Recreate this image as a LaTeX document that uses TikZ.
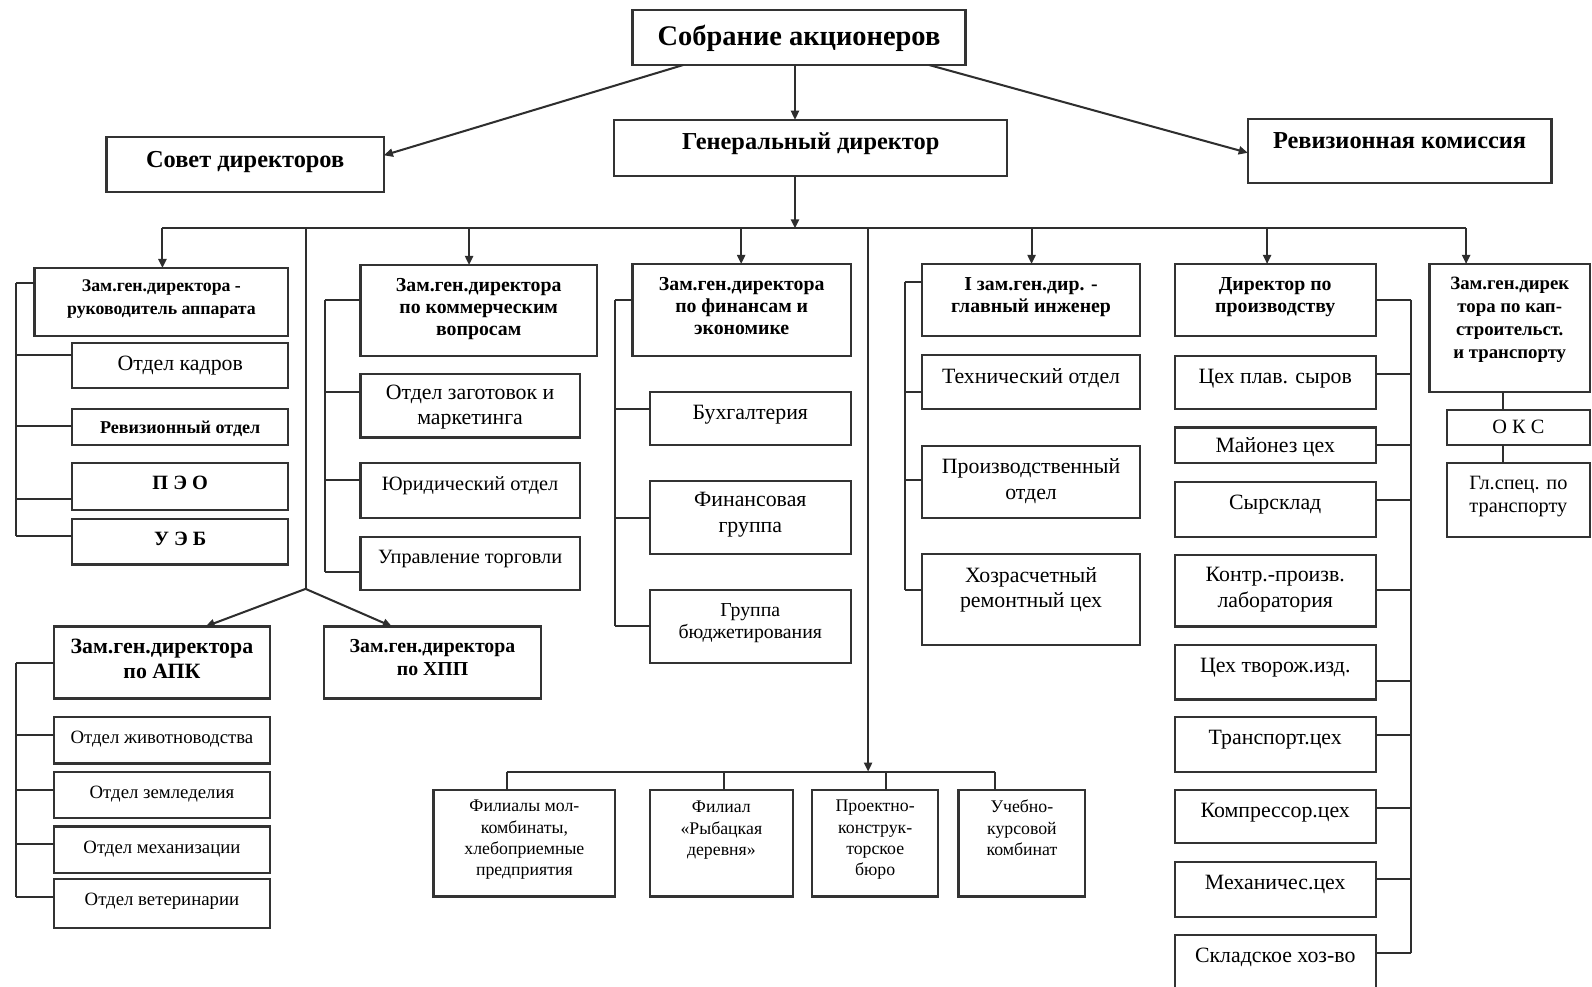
\documentclass[tikz,border=0pt]{standalone}
\usepackage{fontspec}
\setmainfont{Liberation Serif}
\usetikzlibrary{arrows.meta,calc}
\tikzset{
 bx/.style={draw=black!80, line width=2.2pt, inner sep=0pt, outer sep=0pt},
 ln/.style={draw=black!82, line width=2pt},
 arr/.style={ln, -{Triangle[length=9pt,width=8pt]}},
}
\newcommand\fTop{\bfseries\fontsize{28}{32}\selectfont}
\newcommand\fBig{\bfseries\fontsize{24}{28}\selectfont}
\newcommand\fHd{\bfseries\fontsize{19.5}{22}\selectfont}
\newcommand\fHs{\bfseries\fontsize{17.5}{22}\selectfont}
\newcommand\fHk{\bfseries\fontsize{18.5}{22.5}\selectfont}
\newcommand\fHa{\bfseries\fontsize{21.5}{25}\selectfont}
\newcommand\fHb{\bfseries\fontsize{20}{24}\selectfont}
\newcommand\fHr{\bfseries\fontsize{17.8}{20}\selectfont}
\newcommand\fRg{\fontsize{21.5}{25}\selectfont}
\newcommand\fRm{\fontsize{20}{23}\selectfont}
\newcommand\fRs{\fontsize{18.5}{22}\selectfont}
\newcommand\fRb{\fontsize{19.5}{22}\selectfont}
\newcommand\fBt{\fontsize{17.5}{21}\selectfont}
% name, x1, y1, x2, y2, top pad, font, text
\newcommand\bx[8]{\node[bx,font=#7] (#1) at ({(#2+#4)/2},{(#3+#5)/2})
 {\parbox[c][\dimexpr #5pt-#3pt\relax][t]{\dimexpr #4pt-#2pt\relax}{\centering\vspace*{\dimexpr #6pt+5pt\relax}#8\par}};}
\begin{document}
\begin{tikzpicture}[x=1pt,y=-1pt]
\useasboundingbox (0,0) rectangle (1568,972);
% top level
\bx{sob}{623}{10}{951}{64}{10}{\fTop}{Собрание акционеров}
\bx{sov}{105}{135}{378}{189}{9}{\fBig}{Совет директоров}
\bx{gen}{605}{118}{992}{173}{8}{\fBig}{Генеральный директор}
\bx{rev}{1229}{117}{1528}{180}{9}{\fBig}{Ревизионная комиссия}
% column 1
\bx{h1}{34}{264}{284}{331}{7}{\fHs}{Зам.ген.директора -\\руководитель аппарата}
\bx{k1}{71}{338}{284}{382}{8}{\fRg}{Отдел кадров}
\bx{k2}{71}{403}{284}{438}{7}{\fHr}{Ревизионный отдел}
\bx{k3}{71}{456}{284}{502}{8}{\fHb}{П Э О}
\bx{k4}{71}{511}{284}{556}{8}{\fHb}{У Э Б}
% column 2
\bx{h2}{355}{261}{588}{351}{8}{\fHd}{Зам.ген.директора\\по коммерческим\\вопросам}
\bx{c1}{355}{368}{571}{431}{6}{\fRg}{Отдел заготовок и\\маркетинга}
\bx{c2}{355}{456}{571}{510}{8}{\fRm}{Юридический отдел}
\bx{c3}{355}{529}{571}{581}{8}{\fRm}{Управление торговли}
% column 3
\bx{h3}{623}{260}{838}{351}{8}{\fHd}{Зам.ген.директора\\по финансам и\\экономике}
\bx{f1}{640}{386}{838}{438}{8}{\fRg}{Бухгалтерия}
\bx{f2}{640}{474}{838}{546}{6}{\fRg}{Финансовая\\группа}
\bx{f3}{640}{581}{838}{653}{8}{\fRb}{Группа\\бюджетирования}
% column 4
\bx{h4}{908}{260}{1123}{331}{8}{\fHd}{I зам.ген.дир. -\\главный инженер}
\bx{e1}{908}{350}{1123}{403}{8}{\fRg}{Технический отдел}
\bx{e2}{908}{439}{1123}{510}{8}{\fRg}{Производственный\\отдел}
\bx{e3}{908}{546}{1123}{635}{8}{\fRg}{Хозрасчетный\\ремонтный цех}
% column 5
\bx{h5}{1157}{260}{1355}{331}{8}{\fHd}{Директор по\\производству}
\bx{p1}{1157}{351}{1355}{403}{8}{\fRg}{Цех плав. сыров}
\bx{p2}{1157}{421}{1355}{456}{5}{\fRg}{Майонез цех}
\bx{p3}{1157}{475}{1355}{529}{8}{\fRg}{Сырсклад}
\bx{p4}{1157}{547}{1355}{617}{7}{\fRg}{Контр.-произв.\\лаборатория}
\bx{p5}{1157}{635}{1355}{689}{8}{\fRg}{Цех творож.изд.}
\bx{p6}{1157}{706}{1355}{760}{8}{\fRg}{Транспорт.цех}
\bx{p7}{1157}{778}{1355}{830}{8}{\fRg}{Компрессор.цех}
\bx{p8}{1157}{849}{1355}{903}{8}{\fRg}{Механичес.цех}
\bx{p9}{1157}{921}{1355}{995}{8}{\fRg}{Складское хоз-во}
% column 6
\bx{h6}{1408}{260}{1566}{386}{8}{\fHk}{Зам.ген.дирек\\тора по кап-\\строительст.\\и транспорту}
\bx{o1}{1425}{404}{1566}{438}{5}{\fRm}{О К С}
\bx{o2}{1425}{456}{1566}{529}{8}{\fRm}{Гл.спец. по\\транспорту}
% APK / HPP
\bx{apk}{53}{617}{266}{688}{7}{\fHa}{Зам.ген.директора\\по АПК}
\bx{xpp}{319}{617}{533}{688}{8}{\fHd}{Зам.ген.директора\\по ХПП}
\bx{a1}{53}{706}{266}{752}{9}{\fRs}{Отдел животноводства}
\bx{a2}{53}{760}{266}{806}{9}{\fRs}{Отдел земледелия}
\bx{a3}{53}{814}{266}{860}{9}{\fRs}{Отдел механизации}
\bx{a4}{53}{866}{266}{914}{9}{\fRs}{Отдел ветеринарии}
% bottom
\bx{b1}{427}{778}{606}{883}{5}{\fBt}{Филиалы мол-\\комбинаты,\\хлебоприемные\\предприятия}
\bx{b2}{640}{778}{781}{883}{6}{\fBt}{Филиал\\«Рыбацкая\\деревня»}
\bx{b3}{800}{778}{924}{883}{5}{\fBt}{Проектно-\\конструк-\\торское\\бюро}
\bx{b4}{944}{778}{1069}{883}{5}{\fBt}{Учебно-\\курсовой\\комбинат}

% ---- connectors ----
\coordinate (vx) at (783,0);
\coordinate (bus) at (0,225);
\draw[arr] ([xshift=50pt]sob.south west) -- ([yshift=9pt]sov.east);
\draw[arr] (sob.south -| vx) -- (gen.north -| vx);
\draw[arr] ([xshift=-36pt]sob.south east) -- ([yshift=-2pt]rev.west);
\draw[arr] (gen.south -| vx) -- (bus -| vx);
\coordinate (busL) at (160,225);
\coordinate (busR) at (1444,225);
\draw[ln] (busL) -- (busR);
\coordinate (d2) at (462,225);
\coordinate (d3) at (730,225);
\coordinate (d4) at (1016,225);
\coordinate (d5) at (1248,225);
\draw[arr] (busL) -- (busL |- h1.north);
\draw[arr] (d2) -- (d2 |- h2.north);
\draw[arr] (d3) -- (d3 |- h3.north);
\draw[arr] (d4) -- (d4 |- h4.north);
\draw[arr] (d5) -- (d5 |- h5.north);
\draw[arr] (busR) -- (busR |- h6.north);
% spine to APK / HPP
\coordinate (d1b) at (301,225);
\coordinate (split) at (301,580);
\draw[ln] (d1b) -- (split);
\draw[arr] (split) -- ([xshift=43pt]apk.north);
\draw[arr] (split) -- ([xshift=-40pt]xpp.north);
% spine to bottom row
\coordinate (d6) at (855,225);
\coordinate (bb) at (855,760);
\draw[arr] (d6) -- (bb);
\coordinate (bbL) at (499,760);
\coordinate (bb2) at (713,760);
\coordinate (bb3) at (873,760);
\coordinate (bbR) at (980,760);
\draw[ln] (bbL) -- (bbR);
\draw[ln] (bbL) -- (bbL |- b1.north);
\draw[ln] (bb2) -- (bb2 |- b2.north);
\draw[ln] (bb3) -- (bb3 |- b3.north);
\draw[ln] (bbR) -- (bbR |- b4.north);
% brackets
\foreach \n/\y in {h1/279,k1/350,k2/420,k3/491,k4/528} \draw[ln] (16,\y) -- (\n.west |- 16,\y);
\draw[ln] (16,279) -- (16,528);
\foreach \n/\y in {apk/653,a1/724,a2/778,a3/831,a4/883} \draw[ln] (16,\y) -- (\n.west |- 16,\y);
\draw[ln] (16,653) -- (16,883);
\foreach \n/\y in {h2/295,c1/386,c2/473,c3/563} \draw[ln] (320,\y) -- (\n.west |- 320,\y);
\draw[ln] (320,295) -- (320,563);
\foreach \n/\y in {h3/295,f1/403,f2/510,f3/617} \draw[ln] (606,\y) -- (\n.west |- 606,\y);
\draw[ln] (606,295) -- (606,617);
\foreach \n/\y in {h4/278,e1/386,e2/473,e3/581} \draw[ln] (891,\y) -- (\n.west |- 891,\y);
\draw[ln] (891,278) -- (891,581);
\foreach \n/\y in {h5/295,p1/368,p2/438,p3/492,p4/581,p5/671,p6/724,p7/796,p8/866,p9/939} \draw[ln] (1390,\y) -- (\n.east |- 1390,\y);
\draw[ln] (1390,295) -- (1390,939);
\coordinate (kx) at (1480,0);
\draw[ln] (h6.south -| kx) -- (o1.north -| kx);
\draw[ln] (o1.south -| kx) -- (o2.north -| kx);
\end{tikzpicture}
\end{document}
